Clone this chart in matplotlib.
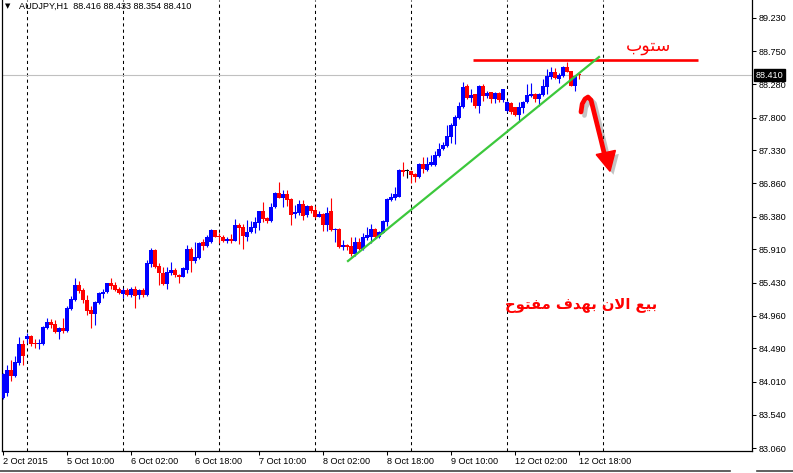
import matplotlib
matplotlib.use("Agg")
import matplotlib.pyplot as plt
import matplotlib.transforms as mtransforms
import matplotlib.patheffects as pe
from matplotlib.patches import Polygon
from matplotlib.lines import Line2D
import numpy as np

# ---------------- data ----------------
symbol_title = "AUDJPY,H1  88.416 88.433 88.354 88.410"

opens = [83.773, 83.845, 84.180, 84.098, 84.285, 84.553, 84.629, 84.668, 84.572, 84.558,
         84.553, 84.787, 84.868, 84.840, 84.730, 84.782, 84.739, 85.060, 85.184, 85.399,
         85.327, 85.184, 85.041, 84.983, 85.146, 85.275, 85.294, 85.423, 85.394, 85.337,
         85.270, 85.327, 85.260, 85.347, 85.251, 85.327, 85.251, 85.700, 85.901, 85.672,
         85.567, 85.409, 85.576, 85.614, 85.543, 85.519, 85.614, 85.916, 85.739, 85.787,
         86.011, 85.954, 86.021, 86.188, 86.107, 86.083, 86.031, 86.059, 86.035, 86.260,
         86.231, 86.093, 86.155, 86.222, 86.294, 86.461, 86.361, 86.317, 86.514, 86.714,
         86.652, 86.705, 86.628, 86.423, 86.428, 86.561, 86.404, 86.533, 86.475, 86.380,
         86.418, 86.265, 86.461, 86.188, 86.203, 85.949, 85.973, 85.959, 85.844, 86.011,
         85.911, 86.069, 86.093, 86.207, 86.093, 86.150, 86.308, 86.619, 86.652, 86.666,
         87.049, 87.032, 87.035, 86.992, 86.944, 87.135, 87.049, 87.121, 87.121, 87.250,
         87.345, 87.393, 87.527, 87.685, 87.790, 87.958, 88.254, 88.077, 88.135, 87.972,
         88.254, 88.115, 88.163, 88.072, 88.158, 88.053, 87.896, 88.016, 87.949, 87.839,
         87.934, 88.020, 88.116, 88.140, 88.063, 88.126, 88.245, 88.389, 88.456, 88.355,
         88.403, 88.532, 88.470, 88.259, 88.416]
highs = [84.141, 84.252, 84.323, 84.381, 84.658, 84.610, 84.706, 84.677, 84.620, 84.620,
         84.816, 84.931, 84.911, 84.897, 84.801, 84.926, 85.098, 85.241, 85.504, 85.461,
         85.351, 85.256, 85.098, 85.174, 85.304, 85.337, 85.433, 85.500, 85.442, 85.366,
         85.351, 85.356, 85.366, 85.385, 85.347, 85.351, 85.758, 85.925, 85.911, 85.710,
         85.653, 85.662, 85.729, 85.638, 85.552, 85.653, 85.973, 85.949, 86.010, 86.021,
         86.054, 86.112, 86.198, 86.193, 86.141, 86.117, 86.083, 86.131, 86.346, 86.284,
         86.274, 86.332, 86.322, 86.380, 86.466, 86.595, 86.380, 86.580, 86.734, 86.877,
         86.762, 86.762, 86.643, 86.547, 86.619, 86.619, 86.542, 86.542, 86.533, 86.461,
         86.437, 86.514, 86.643, 86.212, 86.212, 86.045, 85.988, 86.083, 86.093, 86.078,
         86.140, 86.236, 86.274, 86.222, 86.179, 86.332, 86.642, 86.714, 86.810, 87.058,
         87.168, 87.058, 87.040, 87.011, 87.145, 87.231, 87.231, 87.264, 87.326, 87.441,
         87.455, 87.695, 87.718, 87.838, 88.029, 88.311, 88.278, 88.206, 88.139, 88.264,
         88.283, 88.182, 88.173, 88.173, 88.168, 88.211, 88.039, 88.025, 87.958, 88.030,
         88.039, 88.283, 88.293, 88.149, 88.159, 88.350, 88.494, 88.522, 88.508, 88.446,
         88.542, 88.599, 88.475, 88.412, 88.433]
lows = [83.759, 83.807, 84.027, 84.084, 84.252, 84.252, 84.562, 84.524, 84.491, 84.486,
        84.543, 84.768, 84.778, 84.715, 84.625, 84.715, 84.725, 85.041, 85.174, 85.280,
        85.146, 84.964, 84.787, 84.830, 85.127, 85.208, 85.280, 85.337, 85.318, 85.265,
        85.217, 85.241, 85.222, 85.074, 85.194, 85.232, 85.241, 85.662, 85.643, 85.394,
        85.394, 85.337, 85.547, 85.519, 85.423, 85.509, 85.576, 85.586, 85.710, 85.767,
        85.901, 85.940, 86.007, 86.083, 86.007, 86.021, 86.007, 86.007, 86.031, 85.983,
        85.921, 86.035, 86.141, 86.141, 86.188, 86.298, 86.284, 86.308, 86.499, 86.643,
        86.514, 86.533, 86.265, 86.356, 86.404, 86.332, 86.380, 86.428, 86.356, 86.370,
        86.179, 86.179, 86.179, 86.021, 85.935, 85.901, 85.901, 85.815, 85.815, 85.901,
        85.901, 86.045, 85.997, 86.059, 86.069, 86.140, 86.250, 86.609, 86.619, 86.657,
        86.963, 86.929, 86.867, 86.882, 86.939, 87.011, 87.039, 87.106, 87.106, 87.231,
        87.336, 87.384, 87.432, 87.422, 87.781, 87.934, 88.063, 88.029, 87.934, 87.862,
        88.039, 88.077, 88.015, 88.015, 88.029, 88.029, 87.886, 87.848, 87.824, 87.743,
        87.863, 88.006, 88.102, 88.030, 87.968, 88.116, 88.140, 88.350, 88.350, 88.293,
        88.389, 88.451, 88.255, 88.183, 88.354]
closes = [84.122, 84.180, 84.098, 84.295, 84.553, 84.385, 84.668, 84.553, 84.558, 84.572,
          84.801, 84.868, 84.830, 84.725, 84.782, 84.744, 85.069, 85.203, 85.399, 85.318,
          85.184, 85.031, 84.983, 85.155, 85.280, 85.299, 85.423, 85.385, 85.327, 85.280,
          85.327, 85.260, 85.347, 85.246, 85.327, 85.256, 85.710, 85.901, 85.662, 85.567,
          85.409, 85.586, 85.614, 85.538, 85.519, 85.643, 85.916, 85.739, 85.796, 86.007,
          85.964, 86.083, 86.188, 86.093, 86.083, 86.035, 86.054, 86.031, 86.260, 86.222,
          86.102, 86.164, 86.236, 86.308, 86.461, 86.351, 86.317, 86.523, 86.714, 86.652,
          86.705, 86.619, 86.404, 86.451, 86.561, 86.394, 86.533, 86.466, 86.380, 86.418,
          86.260, 86.437, 86.188, 86.207, 85.949, 85.978, 85.940, 85.844, 86.011, 85.911,
          86.093, 86.112, 86.207, 86.093, 86.160, 86.322, 86.633, 86.666, 86.705, 87.049,
          87.025, 87.032, 86.977, 86.953, 87.135, 87.058, 87.135, 87.168, 87.264, 87.355,
          87.408, 87.537, 87.695, 87.805, 87.967, 88.244, 88.087, 88.125, 87.972, 88.254,
          88.111, 88.158, 88.072, 88.158, 88.053, 88.206, 88.030, 87.886, 87.839, 87.949,
          88.030, 88.126, 88.140, 88.068, 88.140, 88.255, 88.398, 88.456, 88.365, 88.412,
          88.532, 88.460, 88.259, 88.398, 88.410]

x_tick_bars = [0, 16, 32, 48, 64, 80, 96, 112, 128, 144]
x_tick_labels = ["2 Oct 2015", "5 Oct 10:00", "6 Oct 02:00", "6 Oct 18:00", "7 Oct 10:00",
                 "8 Oct 02:00", "8 Oct 18:00", "9 Oct 10:00", "12 Oct 02:00", "12 Oct 18:00"]
day_breaks = [6, 30, 54, 78, 102, 126, 150]
price_ticks = [89.230, 88.750, 88.280, 87.800, 87.330, 86.860, 86.380, 85.910,
               85.430, 84.960, 84.490, 84.010, 83.540, 83.060]
current_price = 88.410
stop_price = 88.634
stop_span = (117.5, 173.75)
stop_label = "ستوب"
signal_label = "بيع الان بهدف مفتوح"
trend_bars = [86.25, 149.0]
trend_prices = [85.743, 88.670]
arrow_bars = [144.5, 144.8, 145.5, 146.25, 147.0, 148.25, 149.5, 150.4]
arrow_prices = [87.881, 87.996, 88.068, 88.096, 88.053, 87.766, 87.479, 87.264]
arrow_head_bars = [148.3, 151.75, 153.1]
arrow_head_prices = [87.270, 87.030, 87.330]

# ---------------- simple Arabic shaping (presentation forms) ----------------
ARABIC_FORMS = {  # isolated, final, initial, medial
    'ا': ('\uFE8D', '\uFE8E', None, None),
    'ب': ('\uFE8F', '\uFE90', '\uFE91', '\uFE92'),
    'ت': ('\uFE95', '\uFE96', '\uFE97', '\uFE98'),
    'ح': ('\uFEA1', '\uFEA2', '\uFEA3', '\uFEA4'),
    'د': ('\uFEA9', '\uFEAA', None, None),
    'س': ('\uFEB1', '\uFEB2', '\uFEB3', '\uFEB4'),
    'ع': ('\uFEC9', '\uFECA', '\uFECB', '\uFECC'),
    'ف': ('\uFED1', '\uFED2', '\uFED3', '\uFED4'),
    'ل': ('\uFEDD', '\uFEDE', '\uFEDF', '\uFEE0'),
    'م': ('\uFEE1', '\uFEE2', '\uFEE3', '\uFEE4'),
    'ن': ('\uFEE5', '\uFEE6', '\uFEE7', '\uFEE8'),
    'ه': ('\uFEE9', '\uFEEA', '\uFEEB', '\uFEEC'),
    'و': ('\uFEED', '\uFEEE', None, None),
    'ي': ('\uFEF1', '\uFEF2', '\uFEF3', '\uFEF4'),
    'لا': ('\uFEFB', '\uFEFC', None, None),
}


def _joins_forward(ch):
    f = ARABIC_FORMS.get(ch)
    return f is not None and f[2] is not None


def shape_arabic(text):
    words = []
    for word in text.split(' '):
        letters = []
        i = 0
        while i < len(word):
            if word[i] == 'ل' and i + 1 < len(word) and word[i + 1] == 'ا':
                letters.append('لا')
                i += 2
            else:
                letters.append(word[i])
                i += 1
        glyphs = []
        for k, ch in enumerate(letters):
            f = ARABIC_FORMS.get(ch)
            if f is None:
                glyphs.append(ch)
                continue
            jp = k > 0 and _joins_forward(letters[k - 1])
            jn = k < len(letters) - 1 and _joins_forward(ch) and letters[k + 1] in ARABIC_FORMS
            if jp and jn:
                g = f[3]
            elif jp:
                g = f[1]
            elif jn:
                g = f[2]
            else:
                g = f[0]
            glyphs.append(g)
        words.append(''.join(glyphs))
    return ' '.join(words)[::-1]


# ---------------- figure ----------------
W, H = 793, 473
fig = plt.figure(figsize=(W / 100, H / 100), dpi=100)
fig.patch.set_facecolor('white')
ax = fig.add_axes([2 / W, (H - 451) / H, 750 / W, 451 / H])
ax.set_facecolor('white')

tick_font = dict(family='Liberation Sans', size=6.6)

x = np.arange(len(opens))
o = np.array(opens); c = np.array(closes); h = np.array(highs); l = np.array(lows)
colors = np.where(c > o, '#0000FF', np.where(c < o, '#FF0000', '#000000'))

# day separators
for b in day_breaks:
    ax.axvline(b, color='black', lw=0.75, linestyle=(0, (3, 3)), zorder=1)

# current price line
ax.axhline(current_price, color='#C0C0C0', lw=0.8, zorder=1.5)

# candles
ax.vlines(x, l, h, colors=colors, lw=0.8, zorder=3)
body_bottom = np.minimum(o, c)
body_height = np.maximum(np.abs(c - o), 0.012)
ax.bar(x, body_height, bottom=body_bottom, width=0.78, color=colors, linewidth=0, zorder=3)

# stop line and label
ax.plot(list(stop_span), [stop_price, stop_price], color='#FF0000', lw=1.9, zorder=4,
        solid_capstyle='butt')
ax.text(161.5, 88.83, shape_arabic(stop_label), color='#FF0000', fontsize=12.5,
        family='DejaVu Sans', ha='center', va='center', zorder=5)

# trend line
ax.plot(trend_bars, trend_prices, color='#3CC83C', lw=1.6, zorder=4)

# curved sell arrow with shadow
shadow = [pe.SimpleLineShadow(offset=(2.5, -2.5), shadow_color='#555555', alpha=0.35), pe.Normal()]
ax.plot(arrow_bars, arrow_prices, color='#FF0000', lw=3.4, solid_capstyle='round',
        solid_joinstyle='round', zorder=6, path_effects=shadow)
head = Polygon(np.column_stack([arrow_head_bars, arrow_head_prices]), closed=True,
               facecolor='#FF0000', edgecolor='#FF0000', lw=1.0, zorder=6,
               path_effects=[pe.SimplePatchShadow(offset=(2.5, -2.5), shadow_rgbFace='#555555', alpha=0.35),
                             pe.Normal()])
ax.add_patch(head)

# signal text
ax.text(144.5, 85.10, shape_arabic(signal_label), color='#FF0000', fontsize=10.6,
        family='DejaVu Sans', weight='bold', ha='center', va='center', zorder=5)

# axes limits
ax.set_xlim(-0.25, 187.25)
ax.set_ylim(83.017, 89.488)

# spines
for s in ['left', 'right', 'bottom']:
    ax.spines[s].set_color('black')
    ax.spines[s].set_linewidth(0.9)
ax.spines['top'].set_visible(False)

# y ticks on the right
ax.yaxis.tick_right()
ax.set_yticks(price_ticks)
ax.set_yticklabels([f"{p:.3f}" for p in price_ticks])
ax.tick_params(axis='y', direction='out', length=3, width=0.75, pad=1.5, colors='black')
for lab in ax.get_yticklabels():
    lab.set_fontfamily(tick_font['family'])
    lab.set_fontsize(tick_font['size'])

# x ticks
ax.set_xticks(x_tick_bars)
ax.set_xticklabels(x_tick_labels)
ax.tick_params(axis='x', direction='out', length=3, width=0.75, pad=1.5, colors='black')
for lab in ax.get_xticklabels():
    lab.set_fontfamily(tick_font['family'])
    lab.set_fontsize(tick_font['size'])
    lab.set_horizontalalignment('left')

# current price box on the right axis
trans = mtransforms.blended_transform_factory(ax.transAxes, ax.transData)
trans = trans + mtransforms.ScaledTranslation(4 / 100, 0, fig.dpi_scale_trans)
ax.text(1.0, current_price, f"{current_price:.3f}", transform=trans, color='white',
        ha='left', va='center', family=tick_font['family'], size=tick_font['size'],
        bbox=dict(boxstyle='square,pad=0.18', facecolor='black', edgecolor='black'),
        zorder=10, clip_on=False)

# title
fig.text(5 / W, 1 - 6.5 / H, "\u25BC", fontsize=5, color='black', va='center', ha='left',
         family='DejaVu Sans')
fig.text(19 / W, 1 - 6.5 / H, symbol_title, color='black', va='center', ha='left',
         family=tick_font['family'], size=tick_font['size'])

# bottom window border
fig.add_artist(Line2D([0, 730 / W], [1 - 471 / H, 1 - 471 / H], color='#444444', lw=1.2))
fig.add_artist(Line2D([757 / W, 1], [1 - 471 / H, 1 - 471 / H], color='#444444', lw=1.2))

fig.savefig('out.png', dpi=100, facecolor='white')
